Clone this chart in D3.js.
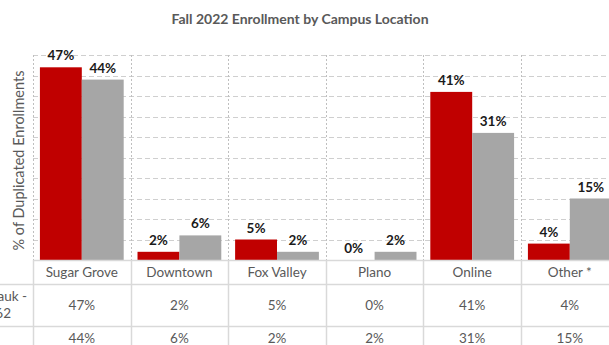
<!DOCTYPE html>
<html>
<head>
<meta charset="utf-8">
<script src="https://cdn.jsdelivr.net/npm/d3@7"></script>
<style>
  html, body { margin: 0; padding: 0; background: #fff; }
  svg { display: block; }
</style>
</head>
<body>
<svg id="chart" width="609" height="345"></svg>
<script>
// Campus locations and enrollment shares (percent of duplicated enrollments)
const campuses = ["Sugar Grove", "Downtown", "Fox Valley", "Plano", "Online", "Other *"];
const seriesA = [47, 2, 5, 0, 41, 4];   // red series
const seriesB = [44, 6, 2, 2, 31, 15];  // gray series
const seriesLabelLines = ["Wauk -", "62"]; // wrapped row label of the first value row
const yTicks = [0, 5, 10, 15, 20, 25, 30, 35, 40, 45, 50];

const colors = ["#C00000", "#A6A6A6"];
const textGray = "#595959";
const font = "Lato, 'Open Sans', sans-serif";

const svg = d3.select("#chart");
const W = 609, H = 345;

const plot = { left: 33, right: 618.6, top: 55, bottom: 260 };

const x = d3.scaleBand().domain(campuses).range([plot.left, plot.right]).padding(0);
const inner = d3.scaleBand().domain([0, 1]).range([0, x.bandwidth()]).paddingOuter(0.165).paddingInner(0);
const y = d3.scaleLinear().domain([0, 50]).range([plot.bottom, plot.top]);

// Title
svg.append("text")
  .attr("x", 300).attr("y", 24)
  .attr("text-anchor", "middle")
  .attr("font-family", font).attr("font-weight", "bold")
  .attr("font-size", 14).attr("fill", textGray)
  .text("Fall 2022 Enrollment by Campus Location");

// Horizontal dashed gridlines
svg.append("g").selectAll("line").data(yTicks.slice(1)).join("line")
  .attr("x1", plot.left).attr("x2", W)
  .attr("y1", d => Math.round(y(d)) + 0.5).attr("y2", d => Math.round(y(d)) + 0.5)
  .attr("stroke", "#CFCFCF").attr("stroke-width", 1)
  .attr("stroke-dasharray", "5,3");

// Vertical dotted gridlines at category boundaries
const bounds = campuses.map(c => x(c));
svg.append("g").selectAll("line").data(bounds).join("line")
  .attr("x1", d => Math.round(d) + 0.5).attr("x2", d => Math.round(d) + 0.5)
  .attr("y1", plot.top).attr("y2", plot.bottom)
  .attr("stroke", "#BFBFBF").attr("stroke-width", 1)
  .attr("stroke-dasharray", "2,2");

// Bars
const groups = svg.append("g").selectAll("g").data(campuses).join("g")
  .attr("transform", c => `translate(${x(c)},0)`);

[seriesA, seriesB].forEach((vals, si) => {
  groups.append("rect")
    .attr("x", inner(si))
    .attr("width", inner.bandwidth())
    .attr("y", (c, i) => y(vals[i]))
    .attr("height", (c, i) => y(0) - y(vals[i]))
    .attr("fill", colors[si]);

  groups.append("text")
    .attr("x", inner(si) + inner.bandwidth() / 2)
    .attr("y", (c, i) => y(vals[i]) - 7)
    .attr("text-anchor", "middle")
    .attr("font-family", font).attr("font-weight", "bold")
    .attr("font-size", 13.5).attr("fill", "#1a1a1a")
    .text((c, i) => vals[i] + "%");
});

// Y axis title
svg.append("text")
  .attr("transform", `translate(24,${(plot.top + plot.bottom) / 2 + 3}) rotate(-90)`)
  .attr("text-anchor", "middle")
  .attr("font-family", font).attr("font-size", 14.5)
  .attr("fill", textGray)
  .text("% of Duplicated Enrollments");

// Data table
const rowLines = [plot.bottom, 284, 326];
const lineColor = "#D9D9D9";
const table = svg.append("g");

table.append("line")
  .attr("x1", plot.left).attr("x2", W)
  .attr("y1", rowLines[0] + 0.5).attr("y2", rowLines[0] + 0.5)
  .attr("stroke", lineColor).attr("stroke-width", 1.5);
table.selectAll("line.row").data(rowLines.slice(1)).join("line")
  .attr("class", "row")
  .attr("x1", 0).attr("x2", W)
  .attr("y1", d => d + 0.5).attr("y2", d => d + 0.5)
  .attr("stroke", lineColor).attr("stroke-width", 1.5);
table.selectAll("line.col").data(bounds).join("line")
  .attr("class", "col")
  .attr("x1", d => Math.round(d) + 0.5).attr("x2", d => Math.round(d) + 0.5)
  .attr("y1", plot.bottom).attr("y2", H)
  .attr("stroke", lineColor).attr("stroke-width", 1.5);

const cellFont = 13.5;
// Category names row
table.selectAll("text.cat").data(campuses).join("text")
  .attr("class", "cat")
  .attr("x", c => x(c) + x.bandwidth() / 2)
  .attr("y", 277)
  .attr("text-anchor", "middle")
  .attr("font-family", font).attr("font-size", cellFont)
  .attr("fill", textGray)
  .text(c => c);

// Value rows
[seriesA, seriesB].forEach((vals, si) => {
  table.selectAll(`text.v${si}`).data(campuses).join("text")
    .attr("class", `v${si}`)
    .attr("x", c => x(c) + x.bandwidth() / 2)
    .attr("y", si === 0 ? 310 : 343)
    .attr("text-anchor", "middle")
    .attr("font-family", font).attr("font-size", cellFont)
    .attr("fill", textGray)
    .text((c, i) => vals[i] + "%");
});

// Wrapped row label for the first value row; it runs past the left edge
table.selectAll("text.lbl").data(seriesLabelLines).join("text")
  .attr("class", "lbl")
  .attr("x", (d, i) => i === 0 ? 27 : 11)
  .attr("y", (d, i) => 301 + i * 17)
  .attr("text-anchor", "end")
  .attr("font-family", font).attr("font-size", cellFont)
  .attr("fill", textGray)
  .text(d => d);
</script>
</body>
</html>
